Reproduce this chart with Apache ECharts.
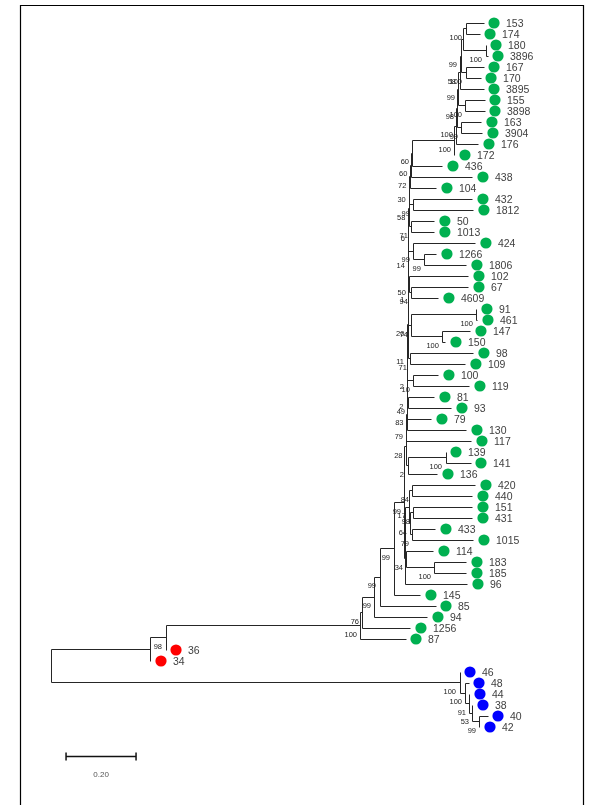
<!DOCTYPE html>
<html>
<head>
<meta charset="utf-8">
<title>Tree</title>
<script src="https://cdn.jsdelivr.net/npm/echarts@6/dist/echarts.min.js"></script>
<style>
html, body { margin: 0; padding: 0; background: #fff; }
#main { width: 590px; height: 805px; }
</style>
</head>
<body>
<div id="main"></div>
<script>
// tree in newick form: branch lengths (substitutions/site), bootstrap values as node labels
var treeNewick =
    '((((((((((((((((((((((((((((((((' +
    '153:0.0514,174:0.04)100:0.0086,(180:0,3896:0.0057)100:0.0657):0.0057,(167:0.0514,170:0.0429)100:0.0143)99:0.0029,' +
    '3895:0.0686)58:0.0029,(155:0.0543,3898:0.0543)100:0.02)99:0.0029,(163:0.0571,3904:0.06)99:0.0114)98:0.0029,' +
    '176:0.0629)100:0.0057,172:0)100:0.12,436:0.0857)60:0.0043,438:0.1757)60:0.0029,104:0.0757)72:0.002' +
    ',(432:0.1686,1812:0.1714)99:0.012)30:0.0009' +
    ',(50:0.0657,1013:0.0657)71:0.0071)58:0.0014' +
    ',(424:0.1771,(1266:0.0343,1806:0.12)99:0.0314)99:0.0143)6:0' +
    ',(102:0.1686,(67:0.1629,4609:0.0771)94:0.0057)50:0.0029)14:0.0014' +
    ',((91:0,461:0.0029)100:0.1857,(147:0.08,150:0.0086)100:0.0886)74:0.01)1:0' +
    ',(98:0.18,109:0.1571)71:0.0071)20:0.0014' +
    ',(100:0.0714,119:0.16)10:0.0171)11:0' +
    ',(81:0.0743,93:0.1229)49:0.0029)2:0.0014' +
    ',79:0.07)2:0' +
    ',130:0.17)83:0.0014' +
    ',117:0.1857)79:0.0014' +
    ',((139:0,141:0.0714)100:0.1086,136:0.0857)2:0.0043)28:0.0043' +
    ',((((420:0.18,440:0.1714)84:0.0086,((151:0.1686,431:0.1686)98:0.0086,(433:0.0657,1015:0.1743)79:0.0057)64:0.0029)17:0.0114,' +
    '(114:0.0771,(183:0.0914,185:0.0914)100:0.08)34:0.0029):0.0014,96:0.1786):0.0014' +
    ')99:0.0314,145:0.0771)99:0.04,85:0.16)99:0.0143,94:0.1514)99:0.0343,1256:0.1371)76:0.0057,87:0.1286)100:0.5571' +
    ',36:0)98:0.0429,34:0):0.2857' +
    ',(46:0,(48:0.0086,(44:0,(38:0,(40:0.0229,42:0)99:0.02)53:0.0086)91:0.0114)100:0.0171)100:1.1686);';

var redTaxa = ['36', '34'];
var blueTaxa = ['46', '48', '44', '38', '40', '42'];
var scaleBarLength = 0.2;
var scaleBarText = '0.20';

function parseNewick(s) {
    var pos = 0;
    function node() {
        var n = { children: [], name: '', len: 0 };
        if (s[pos] === '(') {
            pos++;
            n.children.push(node());
            while (s[pos] === ',') { pos++; n.children.push(node()); }
            pos++;
        }
        var m = /^[^:,();]*/.exec(s.slice(pos));
        n.name = m[0];
        pos += m[0].length;
        if (s[pos] === ':') {
            pos++;
            var m2 = /^[0-9.eE+-]+/.exec(s.slice(pos));
            n.len = parseFloat(m2[0]);
            pos += m2[0].length;
        }
        return n;
    }
    return node();
}

var tree = parseNewick(treeNewick);
var leaves = [];
function layout(n, x) {
    n.x = x + n.len;
    if (!n.children.length) { n.y = leaves.length; leaves.push(n); return; }
    n.children.forEach(function (c) { layout(c, n.x); });
    n.y = (n.children[0].y + n.children[n.children.length - 1].y) / 2;
}
layout(tree, 0);

var branchSegs = [];
var supportLabels = [];
function collect(n) {
    if (!n.children.length) return;
    var a = n.children[0], b = n.children[n.children.length - 1];
    branchSegs.push([n.x, a.y, n.x, b.y]);
    n.children.forEach(function (c) {
        branchSegs.push([n.x, c.y, c.x, c.y]);
        collect(c);
    });
    if (n.name) supportLabels.push([n.x, n.y, n.name]);
}
collect(tree);

function colorOf(name) {
    if (redTaxa.indexOf(name) >= 0) return '#ff0000';
    if (blueTaxa.indexOf(name) >= 0) return '#0000ff';
    return '#00b050';
}
function snap(v) { return Math.round(v - 0.5) + 0.5; }

var myChart = echarts.init(document.getElementById('main'));
var option = {
    animation: false,
    grid: { left: 51, top: 12, width: 525, height: 781 },
    xAxis: { type: 'value', min: 0, max: 1.5, show: false },
    yAxis: { type: 'value', min: -1, max: 70, inverse: true, show: false },
    graphic: [{
        type: 'rect', silent: true,
        shape: { x: 20.5, y: 5.5, width: 563, height: 830 },
        style: { fill: 'none', stroke: '#000', lineWidth: 1.2 }
    }],
    series: [
        {
            // branches
            type: 'custom',
            data: branchSegs,
            encode: { x: [0, 2], y: [1, 3] },
            renderItem: function (params, api) {
                var p1 = api.coord([api.value(0), api.value(1)]);
                var p2 = api.coord([api.value(2), api.value(3)]);
                return {
                    type: 'line',
                    shape: { x1: snap(p1[0]), y1: snap(p1[1]), x2: snap(p2[0]), y2: snap(p2[1]) },
                    style: { stroke: '#262626', lineWidth: 1 }
                };
            }
        },
        {
            // tip markers + taxon names
            type: 'custom',
            data: leaves.map(function (l) { return [l.x, l.y]; }),
            encode: { x: 0, y: 1 },
            renderItem: function (params, api) {
                var p = api.coord([api.value(0), api.value(1)]);
                var name = leaves[params.dataIndex].name;
                return {
                    type: 'group',
                    children: [
                        { type: 'circle', shape: { cx: p[0] + 10, cy: p[1], r: 5.6 }, style: { fill: colorOf(name) } },
                        {
                            type: 'text', x: p[0] + 22, y: p[1] + 1,
                            style: { text: name, fill: '#404040', font: '10.5px "Liberation Sans"', align: 'left', verticalAlign: 'middle' }
                        }
                    ]
                };
            }
        },
        {
            // bootstrap values
            type: 'custom',
            data: supportLabels.map(function (s) { return [s[0], s[1]]; }),
            encode: { x: 0, y: 1 },
            renderItem: function (params, api) {
                var p = api.coord([api.value(0), api.value(1)]);
                return {
                    type: 'text', x: p[0] - 4, y: p[1] + 9,
                    style: { text: supportLabels[params.dataIndex][2], fill: '#222', font: '7.5px "Liberation Sans"', align: 'right', verticalAlign: 'middle' }
                };
            }
        },
        {
            // scale bar
            type: 'custom',
            data: [[0.043, 66.64]],
            encode: { x: 0, y: 1 },
            renderItem: function (params, api) {
                var a = api.coord([api.value(0), api.value(1)]);
                var b = api.coord([api.value(0) + scaleBarLength, api.value(1)]);
                var y = snap(a[1]);
                var s = { stroke: '#111', lineWidth: 1.5 };
                return {
                    type: 'group',
                    children: [
                        { type: 'line', shape: { x1: a[0], y1: y, x2: b[0], y2: y }, style: s },
                        { type: 'line', shape: { x1: a[0], y1: y - 4, x2: a[0], y2: y + 4 }, style: s },
                        { type: 'line', shape: { x1: b[0], y1: y - 4, x2: b[0], y2: y + 4 }, style: s },
                        {
                            type: 'text', x: (a[0] + b[0]) / 2, y: y + 18,
                            style: { text: scaleBarText, fill: '#555', font: '8px "Liberation Sans"', align: 'center', verticalAlign: 'middle' }
                        }
                    ]
                };
            }
        }
    ]
};
myChart.setOption(option);
</script>
</body>
</html>
